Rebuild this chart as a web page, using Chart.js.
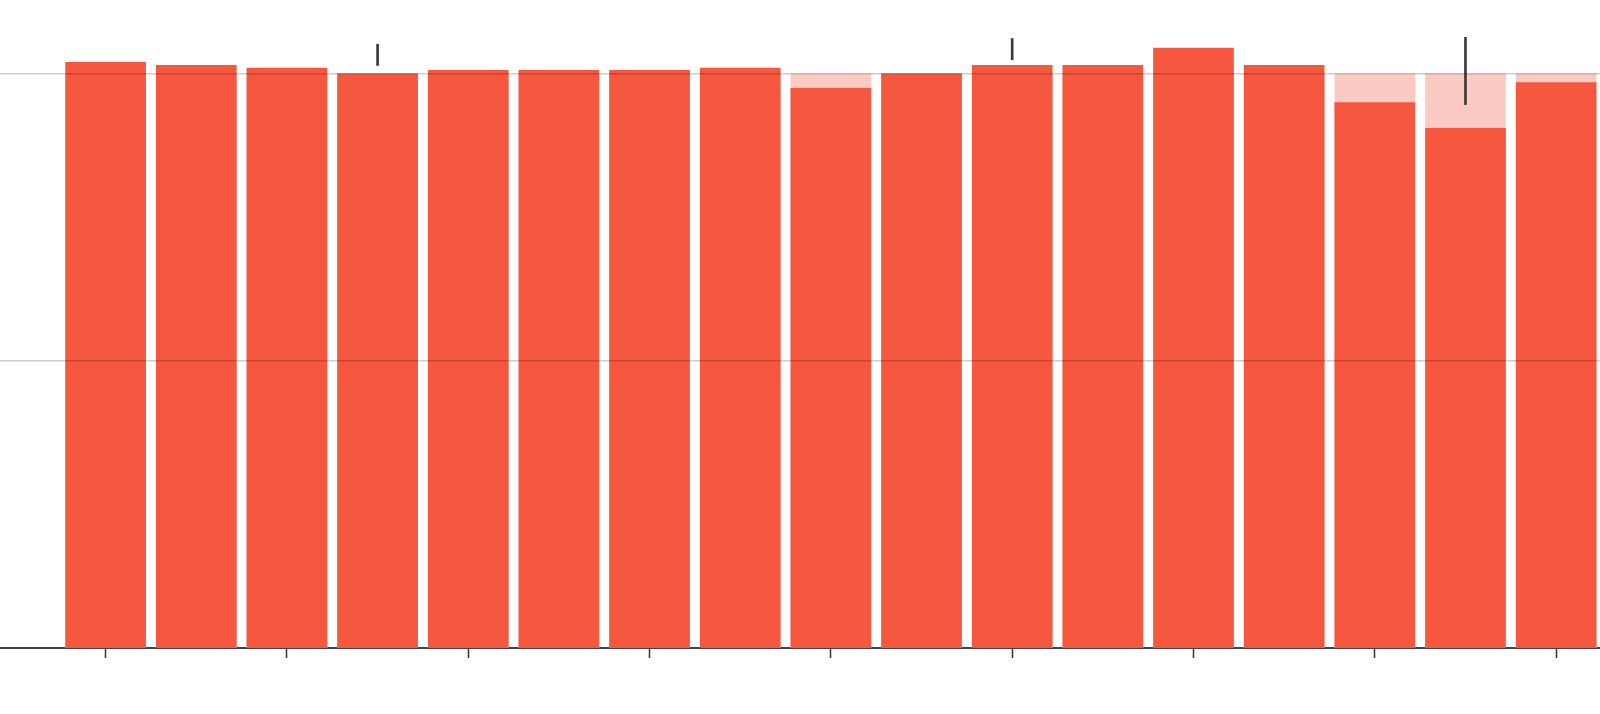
<!DOCTYPE html>
<html lang="en">

<head>
    <meta charset="UTF-8">
    <title>Bars vs target</title>
    <script src="https://cdn.jsdelivr.net/npm/chart.js"></script>
    <style>
        body { margin: 0; background: #fff; }
        #wrap { width: 1600px; height: 714px; }
    </style>
</head>

<body>
    <div id="wrap"><canvas id="chart"></canvas></div>

    <script>
        // data (target = 100)
        const years = [2004, 2005, 2006, 2007, 2008, 2009, 2010, 2011, 2012,
            2013, 2014, 2015, 2016, 2017, 2018, 2019, 2020];
        const values = [102.0, 101.5, 101.0, 100.0, 100.6, 100.6, 100.6, 101.0, 97.5,
            100.0, 101.5, 101.5, 104.5, 101.5, 95.0, 90.5, 98.5];
        const target = [100, 100, 100, 100, 100, 100, 100, 100, 100,
            100, 100, 100, 100, 100, 100, 100, 100];
        // range markers [low, high], only on a few years
        const ranges = [null, null, null, [101.4, 105.1], null, null, null, null, null,
            null, [102.4, 106.1], null, null, null, null, [94.6, 106.3], null];
        const tickYears = [2004, 2006, 2008, 2010, 2012, 2014, 2016, 2018, 2020];
        const gridValues = [50, 100];

        const ctx = document.getElementById('chart').getContext('2d');
        new Chart(ctx, {
            type: 'bar',
            data: {
                labels: years,
                datasets: [{
                    label: 'range',
                    data: ranges,
                    backgroundColor: '#3a3a3a',
                    barThickness: 2,
                    grouped: false,
                    order: 0
                }, {
                    label: 'value',
                    data: values,
                    backgroundColor: '#f5573f',
                    grouped: false,
                    order: 1
                }, {
                    label: 'target',
                    data: target,
                    backgroundColor: '#fbcac3',
                    grouped: false,
                    order: 2
                }]
            },
            options: {
                responsive: true,
                maintainAspectRatio: false,
                animation: false,
                layout: { padding: 0 },
                datasets: {
                    bar: { categoryPercentage: 1, barPercentage: 0.89 }
                },
                plugins: {
                    legend: { display: false },
                    tooltip: { enabled: false }
                },
                scales: {
                    x: {
                        type: 'linear',
                        min: 2002.835,
                        max: 2020.484,
                        offset: false,
                        ticks: { display: false },
                        afterBuildTicks: (scale) => {
                            scale.ticks = tickYears.map(v => ({ value: v }));
                        },
                        grid: {
                            display: true,
                            offset: false,
                            drawOnChartArea: false,
                            drawTicks: true,
                            tickLength: 10,
                            tickColor: '#333',
                            tickWidth: 1.5
                        },
                        border: { display: true, color: '#444', width: 2 },
                        afterFit: (scale) => { scale.height = 66; }
                    },
                    y: {
                        min: 0,
                        max: 112.8,
                        ticks: { display: false },
                        afterBuildTicks: (scale) => {
                            scale.ticks = gridValues.map(v => ({ value: v }));
                        },
                        grid: {
                            color: 'rgba(0,0,0,0.2)',
                            lineWidth: 1.5,
                            drawTicks: false,
                            z: 1
                        },
                        border: { display: false },
                        afterFit: (scale) => { scale.width = 0; }
                    }
                }
            }
        });
    </script>
</body>

</html>
